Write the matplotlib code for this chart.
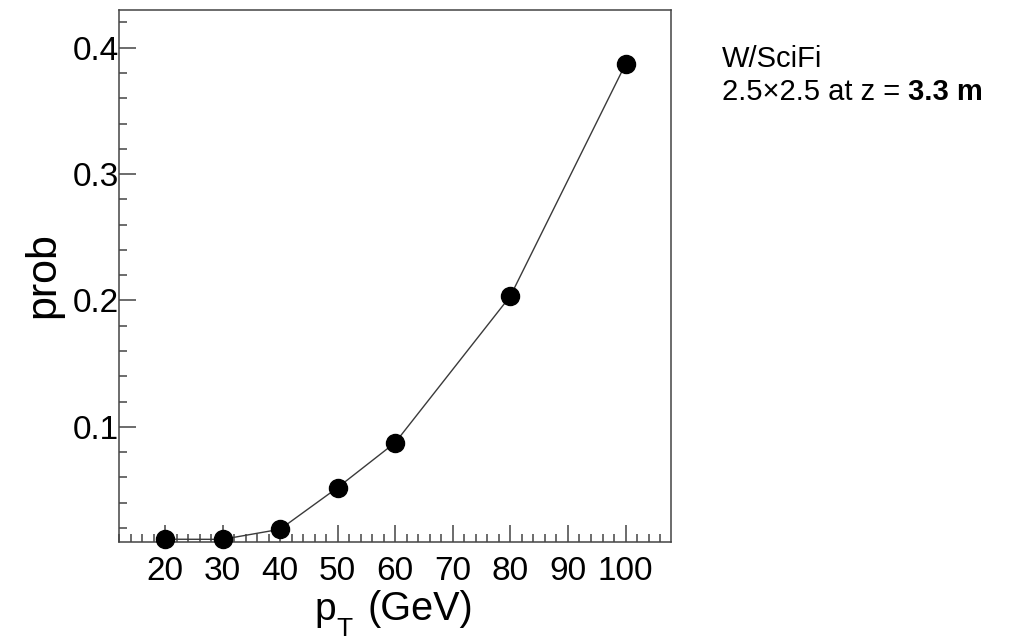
import matplotlib
matplotlib.use("Agg")
import matplotlib.pyplot as plt
from matplotlib.ticker import MultipleLocator

plt.rcParams['font.family'] = ['Liberation Sans', 'DejaVu Sans']

# data
pt = [20, 30, 40, 50, 60, 80, 100]
prob = [0.0111, 0.0110, 0.0190, 0.0520, 0.0876, 0.2035, 0.3870]

x_ticks = [20, 30, 40, 50, 60, 70, 80, 90, 100]
y_ticks = [0.1, 0.2, 0.3, 0.4]
y_tick_labels = ["0.1", "0.2", "0.3", "0.4"]

W, H = 1012, 641
fig = plt.figure(figsize=(W / 100, H / 100), dpi=100)
ax = fig.add_axes([119 / W, 1 - 542 / H, (671 - 119) / W, (542 - 10) / H])

ax.plot(pt, prob, color="#3a3a3a", lw=1.0, marker="o", ms=13,
        mfc="black", mec="black", zorder=3, clip_on=False)

ax.set_xlim(12, 107.9)
ax.set_ylim(0.0089, 0.4298)

ax.set_xticks(x_ticks)
ax.set_xticklabels([str(v) for v in x_ticks])
ax.set_yticks(y_ticks)
ax.set_yticklabels(y_tick_labels)
ax.xaxis.set_minor_locator(MultipleLocator(2))
ax.yaxis.set_minor_locator(MultipleLocator(0.02))

frame_col = "#444444"
for s in ax.spines.values():
    s.set_color(frame_col)
    s.set_linewidth(1.1)

ax.tick_params(which="both", direction="in", top=False, right=False,
               color=frame_col, width=1.1)
ax.tick_params(which="major", length=12.5, labelsize=24)
ax.tick_params(axis="x", which="major", pad=10)
ax.tick_params(axis="y", which="major", pad=0)
ax.tick_params(which="minor", length=6)

# axis titles
fig.text(43 / W, 1 - 275 / H, "prob", rotation=90, fontsize=31,
         ha="center", va="center")
fig.text(314 / W, 1 - 620 / H, "p", fontsize=28, ha="left", va="baseline")
fig.text(336 / W, 1 - 636 / H, "T", fontsize=19, ha="left", va="baseline")
fig.text(367 / W, 1 - 620 / H, "(GeV)", fontsize=28.5, ha="left", va="baseline")

# annotation
fig.text(722 / W, 1 - 67 / H, "W/SciFi", fontsize=21, ha="left", va="baseline")
t1 = fig.text(722 / W, 1 - 100 / H, "2.5\u00d72.5 at z = ", fontsize=21,
              ha="left", va="baseline")
fig.canvas.draw()
bb = t1.get_window_extent()
fig.text(bb.x1 / W, 1 - 100 / H, "3.3 m", fontsize=21, fontweight="bold",
         ha="left", va="baseline")

fig.savefig("out.png", dpi=100)
